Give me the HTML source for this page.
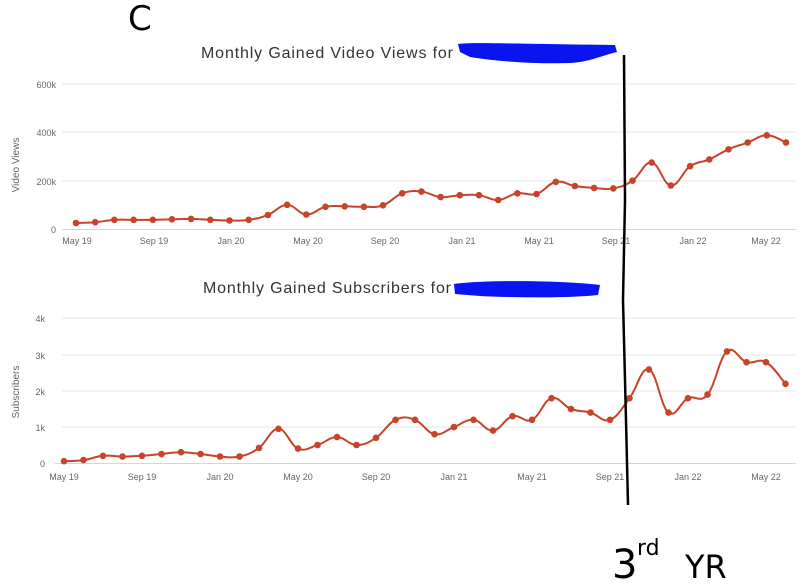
<!DOCTYPE html>
<html><head><meta charset="utf-8"><style>
html,body{margin:0;padding:0;background:#fff;}
svg{display:block;font-family:"Liberation Sans",sans-serif;}
</style></head><body>
<svg id="s" width="800" height="584" viewBox="0 0 800 584">
<rect width="800" height="584" fill="#fff"/>
<g stroke="#e6e6e6" stroke-width="1">
<line x1="62" y1="84" x2="796" y2="84"/><line x1="62" y1="132" x2="796" y2="132"/><line x1="62" y1="181" x2="796" y2="181"/>
<line x1="62" y1="318" x2="796" y2="318"/><line x1="62" y1="355" x2="796" y2="355"/><line x1="62" y1="391" x2="796" y2="391"/><line x1="62" y1="427" x2="796" y2="427"/>
</g>
<line x1="62" y1="229.5" x2="796" y2="229.5" stroke="#ccd6eb"/>
<line x1="55" y1="463.5" x2="796" y2="463.5" stroke="#ccd6eb"/>
<text x="201" y="58" font-size="16" fill="#333" textLength="252">Monthly Gained Video Views for</text>
<text x="203" y="293" font-size="16" fill="#333" textLength="248">Monthly Gained Subscribers for</text>
<g font-size="9" fill="#666" text-anchor="end">
<text x="56" y="88">600k</text><text x="56" y="136">400k</text><text x="56" y="185">200k</text><text x="56" y="233">0</text>
<text x="45" y="322">4k</text><text x="45" y="359">3k</text><text x="45" y="395">2k</text><text x="45" y="431">1k</text><text x="45" y="467">0</text>
</g>
<text transform="translate(19,165) rotate(-90)" font-size="10" fill="#666" text-anchor="middle">Video Views</text>
<text transform="translate(19,392) rotate(-90)" font-size="10" fill="#666" text-anchor="middle">Subscribers</text>
<g font-size="9" fill="#666" text-anchor="middle">
<text x="77" y="244">May 19</text><text x="154" y="244">Sep 19</text><text x="231" y="244">Jan 20</text><text x="308" y="244">May 20</text><text x="385" y="244">Sep 20</text><text x="462" y="244">Jan 21</text><text x="539" y="244">May 21</text><text x="616" y="244">Sep 21</text><text x="693" y="244">Jan 22</text><text x="766" y="244">May 22</text>
<text x="64" y="480">May 19</text><text x="142" y="480">Sep 19</text><text x="220" y="480">Jan 20</text><text x="298" y="480">May 20</text><text x="376" y="480">Sep 20</text><text x="454" y="480">Jan 21</text><text x="532" y="480">May 21</text><text x="610" y="480">Sep 21</text><text x="688" y="480">Jan 22</text><text x="766" y="480">May 22</text>
</g>
<g id="series"></g>
<path d="M458,44 C470,42 520,44 615,45 L617,52 C600,56 590,62 570,63 C540,64 500,62 470,57 L460,52 Z" fill="#0a14f0"/>
<path d="M454,284 C480,280 560,280 600,285 L598,295 C570,298 520,298 480,296 L455,294 Z" fill="#0a14f0"/>
<path d="M624,55 L625,200 L623,300 L626,420 L628,505" stroke="#000" stroke-width="2.5" fill="none"/>
<text x="128" y="30" font-size="34" font-family="DejaVu Sans,sans-serif" fill="#000">C</text>
<text x="612" y="578" font-size="40" font-family="DejaVu Sans,sans-serif" fill="#000">3</text>
<text x="637" y="555" font-size="22" font-family="DejaVu Sans,sans-serif" fill="#000">rd</text>
<text x="685" y="578" font-size="32" font-family="DejaVu Sans,sans-serif" fill="#000">YR</text>
</svg>
<script>
var a=[25,28,38,38,38,40,42,38,35,38,58,100,60,92,94,92,98,148,155,132,140,140,120,148,145,195,178,170,168,200,275,180,260,288,330,358,388,358];
var b=[0.05,0.08,0.2,0.18,0.2,0.25,0.3,0.25,0.18,0.18,0.42,0.95,0.4,0.5,0.72,0.5,0.7,1.2,1.2,0.8,1.0,1.2,0.9,1.3,1.2,1.8,1.5,1.4,1.2,1.8,2.6,1.4,1.8,1.9,3.1,2.8,2.8,2.2];
var g=document.getElementById('series'),out='';
function draw(v,x0,dx,y0,sc){var P=v.map(function(d,i){return [x0+i*dx,y0-d*sc];});
var d='M'+P[0][0]+','+P[0][1];
for(var i=0;i<P.length-1;i++){var p0=P[Math.max(i-1,0)],p1=P[i],p2=P[i+1],p3=P[Math.min(i+2,P.length-1)],k=0.2;
d+=' C'+(p1[0]+(p2[0]-p0[0])*k)+','+(p1[1]+(p2[1]-p0[1])*k)+' '+(p2[0]-(p3[0]-p1[0])*k)+','+(p2[1]-(p3[1]-p1[1])*k)+' '+p2[0]+','+p2[1];}
var c='';P.forEach(function(p){c+='<circle cx="'+p[0].toFixed(1)+'" cy="'+p[1].toFixed(1)+'" r="3.3" fill="#c8432b"/>';});
out+='<path d="'+d+'" fill="none" stroke="#c8432b" stroke-width="2"/>'+c;}
draw(a,76,19.19,229,0.2415);draw(b,64,19.5,463,36);g.innerHTML=out;
</script>
</body></html>
